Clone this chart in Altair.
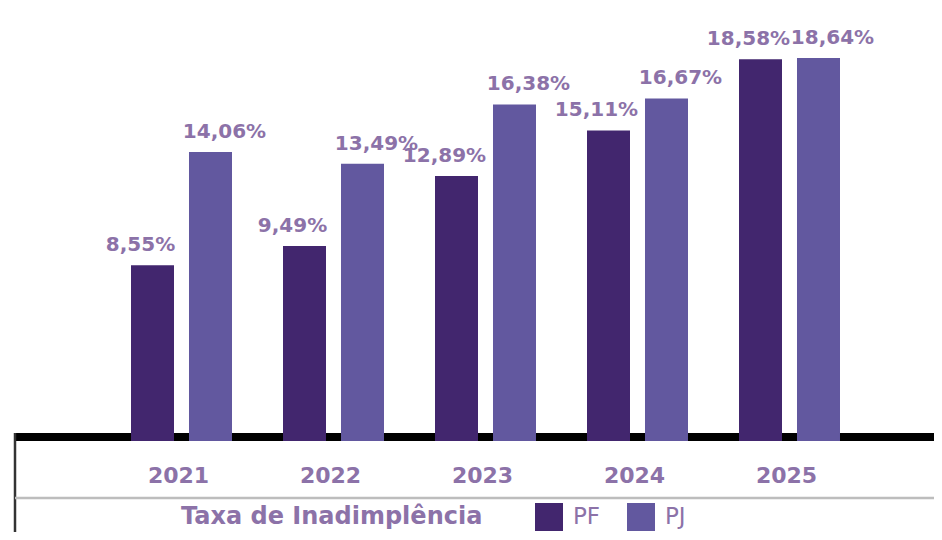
import altair as alt
import pandas as pd

years = ["2021", "2022", "2023", "2024", "2025"]
pf_values = [8.55, 9.49, 12.89, 15.11, 18.58]
pj_values = [14.06, 13.49, 16.38, 16.67, 18.64]
series = ["PF", "PJ"]
series_colors = ["#42266E", "#62589F"]
legend_title = "Taxa de Inadimplência"

LABEL_COLOR = "#8C72A8"
FONT = "DejaVu Sans"
W, H = 926, 524

rows = []
for yr, a, b in zip(years, pf_values, pj_values):
    for s, v in zip(series, (a, b)):
        rows.append({"ano": yr, "tipo": s, "valor": v,
                     "rotulo": f"{v:.2f}".replace(".", ",") + "%"})
df = pd.DataFrame(rows)
years_df = pd.DataFrame({"ano": years})
one = pd.DataFrame({"k": [0]})

x_scale = alt.Scale(domain=years, range=[97.5, 857.5], paddingInner=0, paddingOuter=0)
xo_scale = alt.Scale(domain=series, paddingInner=0.2586, paddingOuter=0.4397)
y_scale = alt.Scale(domain=[0, 21.07], range=[433, 0], nice=False, zero=True)

X = alt.X("ano:N", scale=x_scale, axis=None)
XO = alt.XOffset("tipo:N", scale=xo_scale)
Y = alt.Y("valor:Q", scale=y_scale, axis=None)

baseline = alt.Chart(one).mark_rule(color="#000000", strokeWidth=8).encode(
    x=alt.value(7), x2=alt.value(W), y=alt.value(429)
)
left_line = alt.Chart(one).mark_rule(color="#333333", strokeWidth=2.5).encode(
    x=alt.value(7), y=alt.value(425), y2=alt.value(H)
)
gray_line = alt.Chart(one).mark_rule(color="#BDBDBD", strokeWidth=2.5).encode(
    x=alt.value(7), x2=alt.value(W), y=alt.value(490)
)

bars = alt.Chart(df).mark_bar(cornerRadius=0).encode(
    x=X, xOffset=XO, y=Y,
    color=alt.Color(
        "tipo:N",
        scale=alt.Scale(domain=series, range=series_colors),
        title=legend_title,
        legend=alt.Legend(
            orient="none", legendX=173, legendY=495, direction="horizontal",
            titleOrient="left", titleFont=FONT, titleFontSize=24, titleFontWeight="bold",
            titleColor=LABEL_COLOR, titlePadding=52, titleLimit=500,
            titleBaseline="middle", titleAnchor="middle",
            symbolType="square", symbolSize=784, symbolStrokeWidth=0, symbolOpacity=1,
            labelFont=FONT, labelFontSize=23, labelFontWeight="normal", labelColor=LABEL_COLOR,
            labelOffset=10, columnPadding=26,
        ),
    ),
)

label_style = dict(font=FONT, fontSize=20, fontWeight="bold", color=LABEL_COLOR,
                   baseline="alphabetic", align="center", dy=-14)
labels_pf = alt.Chart(df).transform_filter(alt.datum.tipo == "PF").mark_text(
    dx=-12, **label_style
).encode(x=X, xOffset=XO, y=Y, text="rotulo:N")
labels_pj = alt.Chart(df).transform_filter(alt.datum.tipo == "PJ").mark_text(
    dx=14, **label_style
).encode(x=X, xOffset=XO, y=Y, text="rotulo:N")

year_labels = alt.Chart(years_df).mark_text(
    font=FONT, fontSize=22, fontWeight="bold", color=LABEL_COLOR,
    baseline="middle", align="center", dx=-3
).encode(x=X, y=alt.value(468), text="ano:N")

chart = alt.layer(baseline, left_line, gray_line, bars, labels_pf, labels_pj, year_labels).properties(
    width=W, height=H, padding=0, autosize=alt.AutoSizeParams(type="none")
).configure_view(stroke=None)

chart.save("out.html", embed_options={"renderer": "svg", "actions": False})
